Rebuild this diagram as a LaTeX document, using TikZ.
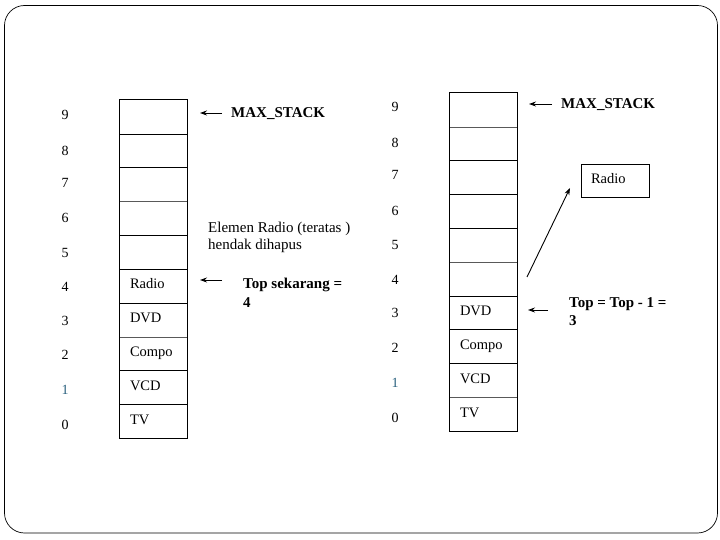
\documentclass[tikz,border=0pt]{standalone}
\usepackage{fontspec}
\setmainfont{Liberation Serif}
\usetikzlibrary{arrows.meta}
\definecolor{idxblue}{RGB}{40,95,125}
\begin{document}
\begin{tikzpicture}[x=1pt,y=-1pt,
  cell/.style={minimum width=67pt, minimum height=33.8pt, text width=47pt, inner xsep=10pt, inner ysep=0pt, align=left, text height=10pt, text depth=4pt, font=\fontsize{14.5}{17}\selectfont},
  idx/.style={font=\fontsize{14}{16}\selectfont, inner sep=0pt},
  boldtxt/.style={font=\fontsize{15}{18.5}\selectfont\bfseries, align=left, inner sep=0pt},
  note/.style={font=\fontsize{15}{17}\selectfont, align=left, inner sep=0pt},
  ptr/.style={-{Stealth[length=7pt,width=5pt]}, line width=0.9pt},
  heavy/.style={line width=0.9pt},
  light/.style={line width=0.6pt, black!65}]
\useasboundingbox (0,0) rectangle (720,540);
\node[draw, line width=0.7pt, rounded corners=20pt, minimum width=713pt, minimum height=527.5pt, inner sep=0pt] (frame) at (361,269.25) {};

% ---------- left stack ----------
\node[cell] (L9) at (153.5,116.9) {};
\node[cell] (L8) at (153.5,150.7) {};
\node[cell] (L7) at (153.5,184.5) {};
\node[cell] (L6) at (153.5,218.3) {};
\node[cell] (L5) at (153.5,252.1) {};
\node[cell] (L4) at (153.5,285.9) {Radio};
\node[cell] (L3) at (153.5,319.7) {DVD};
\node[cell] (L2) at (153.5,353.5) {Compo};
\node[cell] (L1) at (153.5,387.3) {VCD};
\node[cell] (L0) at (153.5,421.1) {TV};
\draw[heavy] (L9.north west) rectangle (L0.south east);
\foreach \c in {L9,L8,L6,L5,L4,L2,L1} \draw[heavy] (\c.south west) -- (\c.south east);
\foreach \c in {L7,L3} \draw[light] (\c.south west) -- (\c.south east);

\node[idx] (li9) at (65,115) {9};
\node[idx] (li8) at (65,151) {8};
\node[idx] (li7) at (65,183) {7};
\node[idx] (li6) at (65,218) {6};
\node[idx] (li5) at (65,253) {5};
\node[idx] (li4) at (65,287) {4};
\node[idx] (li3) at (65,321) {3};
\node[idx] (li2) at (65,355) {2};
\node[idx, text=idxblue] (li1) at (65,390) {1};
\node[idx] (li0) at (65,425) {0};

\coordinate (lmaxs) at (222,113);
\coordinate (lmaxe) at (200,113);
\draw[ptr] (lmaxs) -- (lmaxe);
\node[boldtxt, anchor=west] (lmax) at (231,113.5) {MAX\_STACK};

\coordinate (ltops) at (222,280);
\coordinate (ltope) at (200,280);
\draw[ptr] (ltops) -- (ltope);
\node[boldtxt, anchor=north west] (ltop) at (243,278) {Top sekarang =\\4};

\node[note, anchor=north west] (lnote) at (208,221.5) {Elemen Radio (teratas )\\hendak dihapus};

% ---------- right stack ----------
\node[cell] (R9) at (483.5,109.9) {};
\node[cell] (R8) at (483.5,143.7) {};
\node[cell] (R7) at (483.5,177.5) {};
\node[cell] (R6) at (483.5,211.3) {};
\node[cell] (R5) at (483.5,245.1) {};
\node[cell] (R4) at (483.5,278.9) {};
\node[cell] (R3) at (483.5,312.7) {DVD};
\node[cell] (R2) at (483.5,346.5) {Compo};
\node[cell] (R1) at (483.5,380.3) {VCD};
\node[cell] (R0) at (483.5,414.1) {TV};
\draw[heavy] (R9.north west) rectangle (R0.south east);
\foreach \c in {R8,R7,R6,R4,R3,R2} \draw[heavy] (\c.south west) -- (\c.south east);
\foreach \c in {R9,R5,R1} \draw[light] (\c.south west) -- (\c.south east);

\node[idx] (ri9) at (395,107) {9};
\node[idx] (ri8) at (395,143) {8};
\node[idx] (ri7) at (395,175) {7};
\node[idx] (ri6) at (395,211) {6};
\node[idx] (ri5) at (395,245) {5};
\node[idx] (ri4) at (395,280) {4};
\node[idx] (ri3) at (395,313) {3};
\node[idx] (ri2) at (395,348) {2};
\node[idx, text=idxblue] (ri1) at (395,383) {1};
\node[idx] (ri0) at (395,418) {0};

\coordinate (rmaxs) at (552,104);
\coordinate (rmaxe) at (529,104);
\draw[ptr] (rmaxs) -- (rmaxe);
\node[boldtxt, anchor=west] (rmax) at (561,104.5) {MAX\_STACK};

\coordinate (rtops) at (548,310);
\coordinate (rtope) at (528,310);
\draw[ptr] (rtops) -- (rtope);
\node[boldtxt, anchor=north west] (rtop) at (569,297) {Top = Top - 1 =\\3};

\node[cell, draw, line width=0.8pt, minimum width=68pt, text width=48pt] (radio) at (615,181) {Radio};
\coordinate (pops) at (527,277);
\coordinate (pope) at (570,188);
\draw[ptr] (pops) -- (pope);
\end{tikzpicture}
\end{document}
